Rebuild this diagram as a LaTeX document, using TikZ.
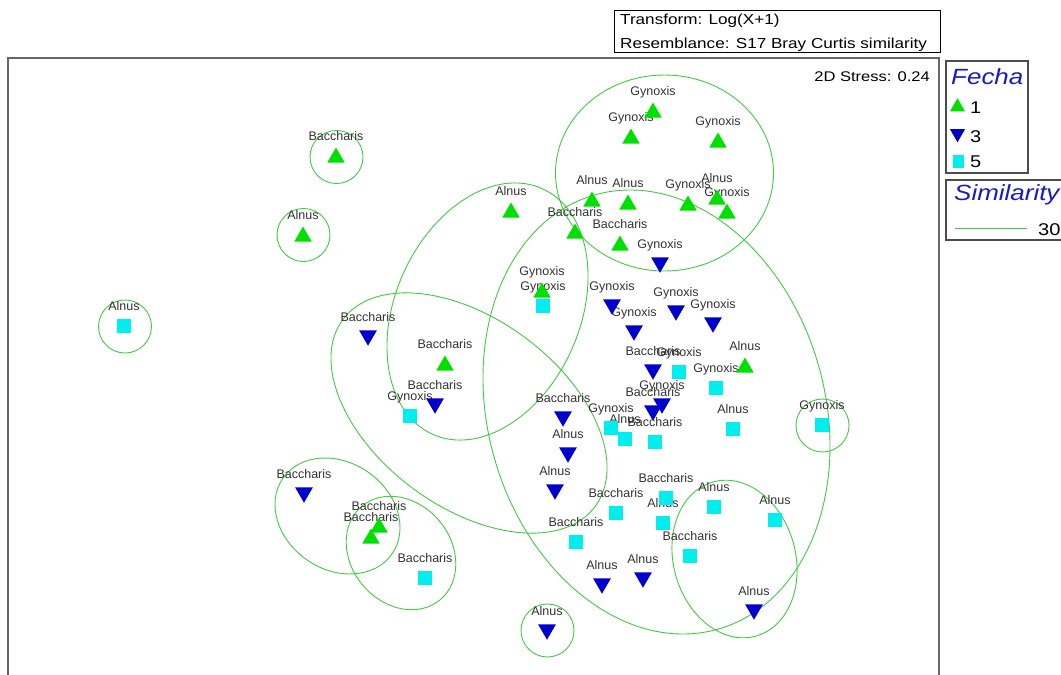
\documentclass[tikz,border=0pt]{standalone}
\usepackage{fontspec}
\setmainfont{Liberation Sans}
\newfontfamily\legfont[FakeStretch=1.18]{Liberation Sans}
\usetikzlibrary{shapes.geometric}
\definecolor{ptgreen}{RGB}{0,224,0}
\definecolor{ptblue}{RGB}{0,0,205}
\definecolor{ptcyan}{RGB}{0,238,238}
\definecolor{simgreen}{RGB}{70,200,70}
\definecolor{legblue}{RGB}{25,25,200}
\begin{document}
\begin{tikzpicture}[x=1pt,y=-1pt,
  every node/.style={inner sep=0pt},
  up/.style={regular polygon,regular polygon sides=3,fill=ptgreen,minimum size=20pt,yshift=-2.5pt},
  dn/.style={regular polygon,regular polygon sides=3,shape border rotate=180,fill=ptblue,minimum size=20.5pt,yshift=2.5pt},
  sq/.style={rectangle,fill=ptcyan,minimum size=13.5pt},
  lbl/.style={anchor=base,font=\fontsize{12.5}{13}\selectfont,text=black!80},
  sim/.style={draw=simgreen,line width=0.9pt},
  frame/.style={draw=black!60,line width=1.8pt},
  legbox/.style={draw=black!70,line width=1.2pt},
  legtxt/.style={font=\legfont\fontsize{17}{18}\selectfont}]
\useasboundingbox[fill=white] (0,0) rectangle (1061,675);

% header and frame
\draw[black,line width=0.8pt] (614,10) rectangle (940,52);
\node[anchor=base west,font=\legfont\fontsize{14.5}{15}\selectfont] (trans) at (620,24) {Transform: Log(X+1)};
\node[anchor=base west,font=\legfont\fontsize{14.5}{15}\selectfont] (resem) at (620,48) {Resemblance: S17 Bray Curtis similarity};
\draw[frame] (8,676) |- (939,58) -- (939,676);
\node[anchor=base east,font=\legfont\fontsize{14}{15}\selectfont] (stress) at (930,81) {2D Stress: 0.24};

% similarity contours
\draw[sim] (664.5,173) ellipse [x radius=109pt,y radius=98pt];
\draw[sim,rotate around={15.8:(656.5,412)}] (656.5,412) ellipse [x radius=168.6pt,y radius=225.7pt];
\draw[sim,rotate around={-23.9:(487.5,311.5)}] (487.5,311.5) ellipse [x radius=92.4pt,y radius=134.5pt];
\draw[sim,rotate around={-36.5:(469,413)}] (469,413) ellipse [x radius=157pt,y radius=94pt];
\draw[sim,rotate around={-34.7:(337.5,516)}] (337.5,516) ellipse [x radius=66.4pt,y radius=53.5pt];
\draw[sim,rotate around={-50:(401,553)}] (401,553) ellipse [x radius=61pt,y radius=50pt];
\draw[sim,rotate around={15.6:(734.5,559)}] (734.5,559) ellipse [x radius=61pt,y radius=80pt];
\draw[sim] (336.5,157) circle [radius=26.5pt];
\draw[sim] (303.5,235) circle [radius=26.5pt];
\draw[sim] (125,326.5) circle [radius=26.5pt];
\draw[sim] (822.5,425.5) circle [radius=26.5pt];
\draw[sim] (547.5,630.5) circle [radius=26.5pt];

% sample labels
\node[lbl] (fa1t) at (653,95) {Gynoxis};
\node[lbl] (fa2t) at (631,121) {Gynoxis};
\node[lbl] (fa3t) at (718,125) {Gynoxis};
\node[lbl] (fa4t) at (336,140) {Baccharis};
\node[lbl] (fa5t) at (592,184) {Alnus};
\node[lbl] (fa6t) at (628,187) {Alnus};
\node[lbl] (fa7t) at (688,188) {Gynoxis};
\node[lbl] (fa8t) at (717,182) {Alnus};
\node[lbl] (fa9t) at (727,196) {Gynoxis};
\node[lbl] (fa10t) at (511,195) {Alnus};
\node[lbl] (fa11t) at (575,216) {Baccharis};
\node[lbl] (fa12t) at (620,228) {Baccharis};
\node[lbl] (fa13t) at (303,219) {Alnus};
\node[lbl] (fa14t) at (542,275) {Gynoxis};
\node[lbl] (fa15t) at (445,348) {Baccharis};
\node[lbl] (fa16t) at (745,350) {Alnus};
\node[lbl] (fa17t) at (379,510) {Baccharis};
\node[lbl] (fa18t) at (371,521) {Baccharis};

\node[lbl] (fb1t) at (660,248) {Gynoxis};
\node[lbl] (fb2t) at (612,290) {Gynoxis};
\node[lbl] (fb3t) at (676,296) {Gynoxis};
\node[lbl] (fb4t) at (713,308) {Gynoxis};
\node[lbl] (fb5t) at (634,316) {Gynoxis};
\node[lbl] (fb6t) at (368,321) {Baccharis};
\node[lbl] (fb7t) at (653,355) {Baccharis};
\node[lbl] (fb8t) at (435,389) {Baccharis};
\node[lbl] (fb9t) at (662,389) {Gynoxis};
\node[lbl] (fb10t) at (653,396) {Baccharis};
\node[lbl] (fb11t) at (563,402) {Baccharis};
\node[lbl] (fb12t) at (568,438) {Alnus};
\node[lbl] (fb13t) at (555,475) {Alnus};
\node[lbl] (fb14t) at (304,478) {Baccharis};
\node[lbl] (fb15t) at (602,569) {Alnus};
\node[lbl] (fb16t) at (643,563) {Alnus};
\node[lbl] (fb17t) at (754,595) {Alnus};
\node[lbl] (fb18t) at (547,615) {Alnus};

\node[lbl] (fc1t) at (124,310) {Alnus};
\node[lbl] (fc2t) at (543,290) {Gynoxis};
\node[lbl] (fc3t) at (679,356) {Gynoxis};
\node[lbl] (fc4t) at (716,372) {Gynoxis};
\node[lbl] (fc5t) at (410,400) {Gynoxis};
\node[lbl] (fc6t) at (822,409) {Gynoxis};
\node[lbl] (fc7t) at (733,413) {Alnus};
\node[lbl] (fc8t) at (611,412) {Gynoxis};
\node[lbl] (fc9t) at (625,423) {Alnus};
\node[lbl] (fc10t) at (655,426) {Baccharis};
\node[lbl] (fc11t) at (666,482) {Baccharis};
\node[lbl] (fc12t) at (616,497) {Baccharis};
\node[lbl] (fc13t) at (714,491) {Alnus};
\node[lbl] (fc14t) at (775,504) {Alnus};
\node[lbl] (fc15t) at (663,507) {Alnus};
\node[lbl] (fc16t) at (576,526) {Baccharis};
\node[lbl] (fc17t) at (690,540) {Baccharis};
\node[lbl] (fc18t) at (425,562) {Baccharis};

% Fecha 1
\node[up] (fa1) at (653,110) {};
\node[up] (fa2) at (631,136) {};
\node[up] (fa3) at (718,140) {};
\node[up] (fa4) at (336,155) {};
\node[up] (fa5) at (592,199) {};
\node[up] (fa6) at (628,202) {};
\node[up] (fa7) at (688,203) {};
\node[up] (fa8) at (717,197) {};
\node[up] (fa9) at (727,211) {};
\node[up] (fa10) at (511,210) {};
\node[up] (fa11) at (575,231) {};
\node[up] (fa12) at (620,243) {};
\node[up] (fa13) at (303,234) {};
\node[up] (fa14) at (542,290) {};
\node[up] (fa15) at (445,363) {};
\node[up] (fa16) at (745,365) {};
\node[up] (fa17) at (379,525) {};
\node[up] (fa18) at (371,536) {};
% Fecha 3
\node[dn] (fb1) at (660,265) {};
\node[dn] (fb2) at (612,307) {};
\node[dn] (fb3) at (676,313) {};
\node[dn] (fb4) at (713,325) {};
\node[dn] (fb5) at (634,333) {};
\node[dn] (fb6) at (368,338) {};
\node[dn] (fb7) at (653,372) {};
\node[dn] (fb8) at (435,406) {};
\node[dn] (fb9) at (662,406) {};
\node[dn] (fb10) at (653,413) {};
\node[dn] (fb11) at (563,419) {};
\node[dn] (fb12) at (568,455) {};
\node[dn] (fb13) at (555,492) {};
\node[dn] (fb14) at (304,495) {};
\node[dn] (fb15) at (602,586) {};
\node[dn] (fb16) at (643,580) {};
\node[dn] (fb17) at (754,612) {};
\node[dn] (fb18) at (547,632) {};
% Fecha 5
\node[sq] (fc1) at (124,326) {};
\node[sq] (fc2) at (543,306) {};
\node[sq] (fc3) at (679,372) {};
\node[sq] (fc4) at (716,388) {};
\node[sq] (fc5) at (410,416) {};
\node[sq] (fc6) at (822,425) {};
\node[sq] (fc7) at (733,429) {};
\node[sq] (fc8) at (611,428) {};
\node[sq] (fc9) at (625,439) {};
\node[sq] (fc10) at (655,442) {};
\node[sq] (fc11) at (666,498) {};
\node[sq] (fc12) at (616,513) {};
\node[sq] (fc13) at (714,507) {};
\node[sq] (fc14) at (775,520) {};
\node[sq] (fc15) at (663,523) {};
\node[sq] (fc16) at (576,542) {};
\node[sq] (fc17) at (690,556) {};
\node[sq] (fc18) at (425,578) {};

% legend
\draw[legbox] (946,61) rectangle (1028,173);
\node[anchor=base west,text=legblue,font=\legfont\itshape\fontsize{22}{24}\selectfont] (fecha) at (951,84) {Fecha};
\node[up,minimum size=17.5pt,yshift=0.5pt] (lg1) at (957.5,105) {};
\node[dn,minimum size=17.5pt,yshift=-0.5pt] (lg3) at (957.5,135.5) {};
\node[sq,minimum width=11pt,minimum height=13pt] (lg5) at (958,161.5) {};
\node[legtxt,anchor=base west] (lg1t) at (970,113) {1};
\node[legtxt,anchor=base west] (lg3t) at (970,142) {3};
\node[legtxt,anchor=base west] (lg5t) at (970,167) {5};
\draw[legbox] (1062,180) -| (946,240) -- (1062,240);
\node[anchor=base west,text=legblue,font=\legfont\itshape\fontsize{22}{24}\selectfont] (simil) at (954,200) {Similarity};
\coordinate (sl) at (955,228);
\coordinate (sr) at (1027,228);
\draw[sim] (sl) -- (sr);
\node[legtxt,anchor=base west] (lvl) at (1038,235) {30};
\end{tikzpicture}
\end{document}
